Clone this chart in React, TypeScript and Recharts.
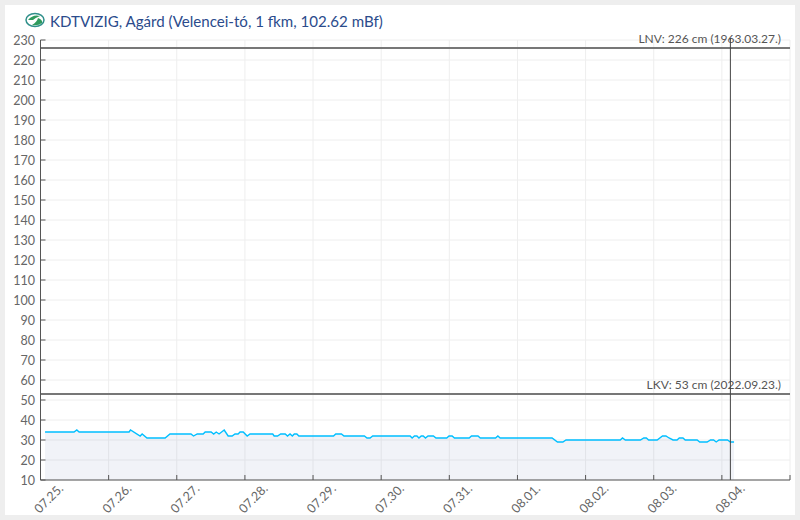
import { Area, CartesianGrid, ComposedChart, ReferenceLine, XAxis, YAxis } from "recharts"

// hours since 07.25. 00:00
const hours = [
  1.6, 11.8, 12.8, 13.6, 31.2, 31.7, 35.1, 35.8, 37.5, 43.9, 45.6, 53, 53.9, 55.2, 57.3, 58, 60.1, 61, 61.9, 62.9,
  64.7, 66.1, 67.5, 68.5, 69.6, 70.3, 71.4, 72.8, 73.8, 81.8, 82.3, 83.5, 84.6, 86.2, 87, 87.9, 88.7, 89.4, 90.3, 91,
  103.2, 104, 106, 106.9, 114.1, 115, 116.1, 117, 130.2, 130.9, 131.7, 132.6, 133.3, 134.1, 134.8, 135.6, 136.5,
  138.4, 139.3, 143.1, 143.9, 145, 145.8, 151, 151.8, 154.1, 154.9, 160.3, 161.1, 161.9, 180.2, 182.1, 184, 185.1,
  204.2, 205, 206, 211.3, 212.5, 213.4, 214.2, 217.2, 219.1, 220.3, 221.4, 222.8, 224.2, 225, 226.3, 227.1, 231.3,
  232.2, 234.8, 236, 237.1, 238, 239, 242, 243, 244.3,
]
const levels = [
  34, 34, 35, 34, 34, 35, 32, 33, 31, 31, 33, 33, 32, 33, 33, 34, 34, 33, 34, 33,
  35, 32, 32, 33, 33, 34, 34, 32, 33, 33, 32, 32, 33, 33, 32, 33, 32, 33, 33, 32,
  32, 33, 33, 32, 32, 31, 31, 32, 32, 31, 32, 32, 31, 32, 32, 31, 32,
  32, 31, 31, 32, 32, 31, 31, 32, 32, 31, 31, 32, 31, 31, 29, 29, 30,
  30, 31, 30, 30, 31, 31, 30, 30, 32, 32, 31, 30, 30, 31, 31, 30, 30,
  29, 29, 30, 30, 29, 30, 30, 29, 29,
]
const dayLabels = ["07.25.", "07.26.", "07.27.", "07.28.", "07.29.", "07.30.", "07.31.", "08.01.", "08.02.", "08.03.", "08.04.", ""]
const dayTicks = [0, 24, 48, 72, 96, 120, 144, 168, 192, 216, 240, 264]
const levelTicks = [10, 20, 30, 40, 50, 60, 70, 80, 90, 100, 110, 120, 130, 140, 150, 160, 170, 180, 190, 200, 210, 220, 230]

const lnv = 226
const lkv = 53
const nowHour = 243

const data = hours.map((hour, i) => ({ hour, level: levels[i] }))

const font = "Lato"
const axisColor = "#555"
const textColor = "#666"

function XTick({ x, y, payload }: any) {
  const label = dayLabels[dayTicks.indexOf(payload.value)]
  return (
    <g>
      <line x1={x} x2={x} y1={y} y2={y - 5} stroke={axisColor} />
      <text transform={`translate(${x - 1},${y + 34}) rotate(-45)`} fontFamily={font} fontSize={12.5} fill={textColor}>
        {label}
      </text>
    </g>
  )
}

function YTick({ x, y, payload }: any) {
  return (
    <g>
      <line x1={x} x2={x + 5} y1={y} y2={y} stroke={axisColor} />
      <text x={x - 5.5} y={y + 4.5} textAnchor="end" fontFamily={font} fontSize={12.5} fill={textColor}>
        {payload.value}
      </text>
    </g>
  )
}

function limitLabel(text: string) {
  return ({ viewBox }: any) => (
    <text x={viewBox.x + viewBox.width - 9} y={viewBox.y - 5} textAnchor="end" fontFamily={font} fontSize={12} fill="#555">
      {text}
    </text>
  )
}

// sticks out a little above the plot, like the original
function NowLine({ x1, x2, y1, y2 }: any) {
  return <line x1={x1} x2={x2} y1={Math.min(y1, y2) - 2} y2={Math.max(y1, y2)} stroke="#444" />
}

export default function App() {
  return (
    <div style={{ position: "absolute", left: 0, top: 0, width: 800, height: 520, background: "#eee" }}>
      <div style={{ position: "absolute", left: 5, top: 5, width: 790, height: 510, background: "#fff" }} />
      <svg style={{ position: "absolute", left: 25, top: 12 }} width={20} height={16} viewBox="0 0 20 16">
        <ellipse cx={10} cy={8} rx={9} ry={6.5} fill="#fff" stroke="#2f8f8a" strokeWidth={1.5} />
        <path d="M3 8 Q8 2 15 4 Q10 6 8 8 Z" fill="#2f9a5c" />
        <path d="M7 13 Q12 10 13 6 Q18 8 17 11 Q13 14 7 13 Z" fill="#2f9a5c" />
      </svg>
      <div style={{ position: "absolute", left: 50, top: 12, fontFamily: font, fontSize: 15.1, lineHeight: "18px", color: "#2b4b8c", whiteSpace: "nowrap" }}>
        KDTVIZIG, Agárd (Velencei-tó, 1 fkm, 102.62 mBf)
      </div>
      <ComposedChart
        width={800}
        height={520}
        data={data}
        margin={{ top: 40, right: 10, bottom: 0, left: 0 }}
        style={{ position: "absolute", left: 0, top: 0 }}
      >
        <CartesianGrid stroke="#eee" />
        <XAxis
          dataKey="hour"
          type="number"
          domain={[0, 264]}
          ticks={dayTicks}
          interval={0}
          height={40}
          tick={<XTick />}
          tickLine={false}
          tickSize={0}
          tickMargin={0}
          axisLine={{ stroke: axisColor }}
        />
        <YAxis
          type="number"
          domain={[10, 230]}
          ticks={levelTicks}
          interval={0}
          width={40.5}
          tick={<YTick />}
          tickLine={false}
          tickSize={0}
          tickMargin={0}
          axisLine={{ stroke: axisColor }}
        />
        <Area
          dataKey="level"
          type="linear"
          stroke="#00bfff"
          strokeWidth={1.4}
          fill="#7387b9"
          fillOpacity={0.1}
          dot={false}
          activeDot={false}
          isAnimationActive={false}
        />
        <ReferenceLine y={lnv} stroke="#777" strokeWidth={2} label={limitLabel("LNV: 226 cm (1963.03.27.)")} />
        <ReferenceLine y={lkv} stroke="#777" strokeWidth={2} label={limitLabel("LKV: 53 cm (2022.09.23.)")} />
        <ReferenceLine x={nowHour} shape={NowLine} />
      </ComposedChart>
    </div>
  )
}
